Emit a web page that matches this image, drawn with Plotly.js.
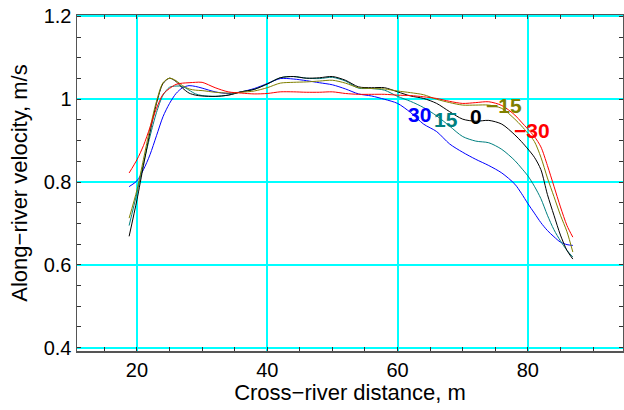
<!DOCTYPE html>
<html>
<head>
<meta charset="utf-8">
<script src="https://cdn.plot.ly/plotly-3.0.1.min.js"></script>
<style>html,body{margin:0;padding:0;background:#fff;}#chart{width:624px;height:410px;}</style>
</head>
<body>
<div id="chart"></div>
<script>
// Cross-river distance (m)
const distance = [18.8, 20, 21, 22, 23, 24, 25, 26, 27, 28, 29, 30, 32, 34, 36, 38, 40, 42, 44, 46, 48, 50, 52, 54, 56, 58, 60, 62, 64, 66, 68, 70, 72, 74, 76, 78, 79, 80, 81, 82, 83, 84, 85, 86, 86.9];

// Along-river velocity (m/s) for each angle
const v30 = [0.789, 0.803, 0.83, 0.866, 0.912, 0.958, 0.99, 1.014, 1.028, 1.033, 1.031, 1.027, 1.018, 1.014, 1.018, 1.026, 1.038, 1.05, 1.049, 1.045, 1.04, 1.035, 1.025, 1.013, 1.008, 1.0, 0.99, 0.968, 0.94, 0.922, 0.892, 0.872, 0.855, 0.84, 0.822, 0.795, 0.773, 0.748, 0.725, 0.702, 0.683, 0.668, 0.655, 0.649, 0.647];
const v15 = [0.695, 0.774, 0.845, 0.91, 0.968, 1.01, 1.029, 1.032, 1.031, 1.022, 1.013, 1.009, 1.007, 1.01, 1.018, 1.024, 1.037, 1.052, 1.055, 1.051, 1.05, 1.053, 1.044, 1.027, 1.026, 1.022, 1.007, 0.995, 0.98, 0.96, 0.935, 0.91, 0.899, 0.895, 0.879, 0.852, 0.834, 0.815, 0.79, 0.76, 0.72, 0.685, 0.658, 0.635, 0.619];
const v0 = [0.669, 0.757, 0.84, 0.92, 0.99, 1.038, 1.051, 1.043, 1.027, 1.015, 1.01, 1.008, 1.007, 1.01, 1.018, 1.024, 1.037, 1.052, 1.055, 1.051, 1.052, 1.055, 1.046, 1.03, 1.028, 1.028, 1.018, 1.008, 1.002, 0.99, 0.97, 0.952, 0.947, 0.949, 0.94, 0.914, 0.898, 0.88, 0.86, 0.83, 0.77, 0.72, 0.672, 0.635, 0.614];
const vm15 = [0.713, 0.781, 0.855, 0.93, 0.995, 1.04, 1.051, 1.045, 1.033, 1.025, 1.022, 1.021, 1.017, 1.015, 1.017, 1.02, 1.028, 1.039, 1.041, 1.042, 1.044, 1.046, 1.039, 1.028, 1.026, 1.025, 1.02, 1.016, 1.011, 1.0, 0.992, 0.986, 0.986, 0.986, 0.978, 0.952, 0.936, 0.918, 0.898, 0.86, 0.81, 0.765, 0.72, 0.68, 0.631];
const vm30 = [0.822, 0.854, 0.888, 0.932, 0.978, 1.012, 1.026, 1.036, 1.039, 1.04, 1.041, 1.041, 1.028, 1.018, 1.015, 1.013, 1.014, 1.018, 1.018, 1.017, 1.017, 1.018, 1.014, 1.012, 1.012, 1.012, 1.01, 1.009, 1.006, 1.002, 0.995, 0.99, 0.992, 0.994, 0.985, 0.962, 0.945, 0.928, 0.91, 0.885, 0.84, 0.79, 0.74, 0.695, 0.667];

const seriesNames = ["30", "15", "0", "\u221215", "\u221230"];
const labelX = [63.4, 67.5, 72.0, 76.3, 80.6];
const labelY = [0.964, 0.950, 0.959, 0.984, 0.924];

const colors = ["#0000ff", "#008080", "#000000", "#808000", "#ff0000"];
const values = [v30, v15, v0, vm15, vm30];

const traces = values.map((v, i) => ({
  x: distance, y: v, type: "scatter", mode: "lines", name: seriesNames[i],
  line: {color: colors[i], width: 1, shape: "spline", smoothing: 0.8},
  hoverinfo: "skip"
}));

const annotations = seriesNames.map((s, i) => ({
  x: labelX[i], y: labelY[i], xref: "x", yref: "y", text: "<b>" + s + "</b>",
  showarrow: false, font: {family: "Liberation Sans, Arial, sans-serif", size: 21, color: colors[i]},
  xanchor: "center", yanchor: "middle"
}));

const axisCommon = {
  showline: true, linecolor: "#555555", linewidth: 1.5, mirror: "ticks",
  ticks: "inside", ticklen: 4, tickcolor: "#333333", tickwidth: 1,
  showgrid: true, gridcolor: "#00ffff", gridwidth: 2, zeroline: false,
  tickfont: {family: "Liberation Sans, Arial, sans-serif", size: 20, color: "#000"}
};

const layout = {
  width: 624, height: 410,
  margin: {l: 77, r: 1, t: 15, b: 59},
  paper_bgcolor: "#fff", plot_bgcolor: "#fff",
  showlegend: false,
  xaxis: Object.assign({}, axisCommon, {
    range: [10.8, 94.6], tickmode: "linear", tick0: 0, dtick: 20,
    minor: {dtick: 5, tick0: 0, ticks: "inside", ticklen: 4, tickcolor: "#333333", showgrid: false},
    title: {text: "Cross\u2212river distance, m", font: {family: "Liberation Sans, Arial, sans-serif", size: 22, color: "#000"}, standoff: 3}
  }),
  yaxis: Object.assign({}, axisCommon, {
    range: [0.392, 1.2036], tickmode: "linear", tick0: 0, dtick: 0.2,
    minor: {dtick: 0.05, tick0: 0, ticks: "inside", ticklen: 4, tickcolor: "#333333", showgrid: false},
    title: {text: "Along\u2212river velocity, m/s", font: {family: "Liberation Sans, Arial, sans-serif", size: 22, color: "#000"}, standoff: 10}
  }),
  annotations: annotations
};

Plotly.newPlot("chart", traces, layout, {staticPlot: true, displayModeBar: false});
</script>
</body>
</html>
